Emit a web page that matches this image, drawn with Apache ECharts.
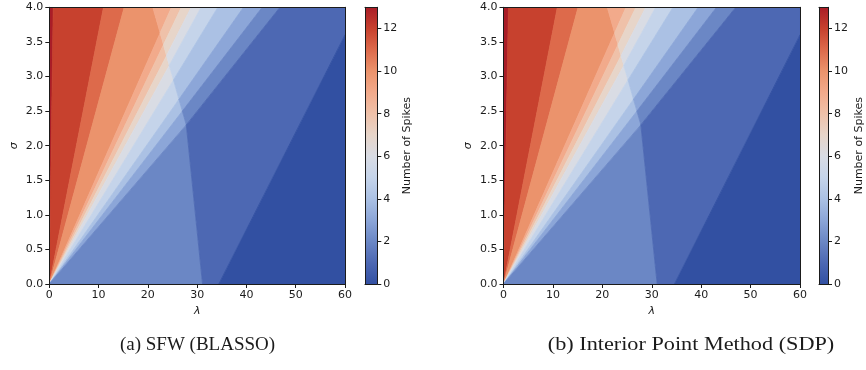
<!DOCTYPE html>
<html><head><meta charset="utf-8">
<script src="https://cdn.jsdelivr.net/npm/echarts@6/dist/echarts.min.js"></script>
<style>html,body{margin:0;padding:0;background:#fff}#c{width:866px;height:370px}</style>
</head><body><div id="c"></div>
<script>
// ---- data ----
const lambdaTicks = [0, 10, 20, 30, 40, 50, 60];
const sigmaTicks = [0, 0.5, 1, 1.5, 2, 2.5, 3, 3.5, 4];
const spikeTicks = [0, 2, 4, 6, 8, 10, 12];
const spikeMax = 13;

// number of spikes in each region of the (λ, σ) plane, and the region outline as [λ, σ] vertices
const sfwSpikes = [13, 12, 11, 10, 9, 9, 8, 8, 7, 7, 6, 6, 5, 5, 4, 4, 3, 3, 2, 2, 1, 0];
const sfwVertices = [
  [[0,0],[0,4],[0.8,4]],
  [[0,0],[0.8,4],[11.0,4]],
  [[0,0],[11.0,4],[15.2,4]],
  [[0,0],[15.2,4],[21.0,4],[22.49,3.63]],
  [[21.0,4],[24.8,4],[22.49,3.63]],
  [[0,0],[22.49,3.63],[23.17,3.46]],
  [[22.49,3.63],[24.8,4],[26.8,4],[23.17,3.46]],
  [[0,0],[23.17,3.46],[23.79,3.30]],
  [[23.17,3.46],[26.8,4],[28.8,4],[23.79,3.30]],
  [[0,0],[23.79,3.30],[24.35,3.16]],
  [[23.79,3.30],[28.8,4],[30.8,4],[24.35,3.16]],
  [[0,0],[24.35,3.16],[25.21,2.95]],
  [[24.35,3.16],[30.8,4],[34.2,4],[25.21,2.95]],
  [[0,0],[25.21,2.95],[26.31,2.67]],
  [[25.21,2.95],[34.2,4],[39.4,4],[26.31,2.67]],
  [[0,0],[26.31,2.67],[27.0,2.5]],
  [[26.31,2.67],[39.4,4],[43.2,4],[27.0,2.5]],
  [[0,0],[27.0,2.5],[27.8,2.3]],
  [[27.0,2.5],[43.2,4],[46.8,4],[27.8,2.3]],
  [[0,0],[27.8,2.3],[31.1,0]],
  [[27.8,2.3],[46.8,4],[60,4],[60,3.6],[34.4,0],[31.1,0]],
  [[34.4,0],[60,3.6],[60,0]]
];

const sdpSpikes = [13, 12, 11, 10, 9, 9, 8, 8, 7, 7, 6, 6, 5, 5, 4, 4, 3, 3, 2, 2, 1, 0];
const sdpVertices = [
  [[0,0],[0,4],[1.0,4]],
  [[0,0],[1.0,4],[10.9,4]],
  [[0,0],[10.9,4],[15.1,4]],
  [[0,0],[15.1,4],[21.0,4],[22.49,3.63]],
  [[21.0,4],[24.8,4],[22.49,3.63]],
  [[0,0],[22.49,3.63],[23.17,3.46]],
  [[22.49,3.63],[24.8,4],[26.8,4],[23.17,3.46]],
  [[0,0],[23.17,3.46],[23.79,3.30]],
  [[23.17,3.46],[26.8,4],[28.8,4],[23.79,3.30]],
  [[0,0],[23.79,3.30],[24.35,3.16]],
  [[23.79,3.30],[28.8,4],[30.8,4],[24.35,3.16]],
  [[0,0],[24.35,3.16],[25.21,2.95]],
  [[24.35,3.16],[30.8,4],[34.3,4],[25.21,2.95]],
  [[0,0],[25.21,2.95],[26.31,2.67]],
  [[25.21,2.95],[34.3,4],[39.4,4],[26.31,2.67]],
  [[0,0],[26.31,2.67],[27.0,2.5]],
  [[26.31,2.67],[39.4,4],[43.1,4],[27.0,2.5]],
  [[0,0],[27.0,2.5],[27.8,2.3]],
  [[27.0,2.5],[43.1,4],[47.0,4],[27.8,2.3]],
  [[0,0],[27.8,2.3],[31.1,0]],
  [[27.8,2.3],[47.0,4],[60,4],[60,3.6],[34.6,0],[31.1,0]],
  [[34.6,0],[60,3.6],[60,0]]
];

const captions = ['(a) SFW (BLASSO)', '(b) Interior Point Method (SDP)'];

// ---- styles ----
const spikeColors = ['#3250a2','#4d68b3','#6b87c5','#8ca6d8','#abc1e4','#c5d4ea','#d9dce4','#e7d5c9','#efc1a9','#f2aa8b','#eb936c','#dd6a4b','#c7412e','#a91d27'];
const ink = '#1b1b1b';
const tickFont = {fontFamily: 'DejaVu Sans', fontSize: 11, color: ink};

function regionSeries(xi, yi, spikes, verts) {
  return {
    type: 'custom', xAxisIndex: xi, yAxisIndex: yi, clip: true, silent: true,
    data: spikes.map((s, i) => [i, s]),
    renderItem: function (params, api) {
      const idx = api.value(0);
      const pts = verts[idx].map(p => api.coord(p));
      const col = spikeColors[spikes[idx]];
      return {type: 'polygon', shape: {points: pts}, style: {fill: col, stroke: col, lineWidth: 0.8}};
    }
  };
}
function colorbarSeries(xi, yi) {
  return {
    type: 'bar', xAxisIndex: xi, yAxisIndex: yi, barWidth: '100%', silent: true,
    data: [spikeMax],
    itemStyle: {color: {type: 'linear', x: 0, y: 1, x2: 0, y2: 0, global: false,
      colorStops: spikeColors.map((c, i) => ({offset: i / spikeMax, color: c}))}}
  };
}
const lineOnly = (o) => Object.assign({
  z: 10, axisLine: {show: true, onZero: false, lineStyle: {color: ink, width: 1}},
  axisTick: {show: false}, axisLabel: {show: false}, splitLine: {show: false}
}, o);
function lamAxis(g) {
  return {type: 'value', gridIndex: g, min: lambdaTicks[0], max: lambdaTicks[lambdaTicks.length-1], interval: 10, z: 10,
    name: 'λ', nameLocation: 'middle', nameGap: 20, nameTextStyle: {fontFamily: 'DejaVu Sans', fontSize: 11, fontStyle: 'italic', color: ink},
    axisLine: {show: true, onZero: false, lineStyle: {color: ink}},
    axisTick: {show: true, length: 4, lineStyle: {color: ink}},
    axisLabel: Object.assign({margin: 6}, tickFont), splitLine: {show: false}};
}
function sigAxis(g) {
  return {type: 'value', gridIndex: g, min: sigmaTicks[0], max: sigmaTicks[sigmaTicks.length-1], interval: 0.5, z: 10,
    name: 'σ', nameLocation: 'middle', nameGap: 30, nameTextStyle: {fontFamily: 'DejaVu Sans', fontSize: 11, fontStyle: 'italic', color: ink},
    axisLine: {show: true, onZero: false, lineStyle: {color: ink}},
    axisTick: {show: true, length: 4, lineStyle: {color: ink}},
    axisLabel: Object.assign({margin: 6, formatter: v => v.toFixed(1)}, tickFont), splitLine: {show: false}};
}
function cbAxis(g, gap) {
  return {type: 'value', gridIndex: g, position: 'right', min: 0, max: spikeMax, interval: 2, z: 10,
    name: 'Number of Spikes', nameLocation: 'middle', nameGap: gap,
    nameTextStyle: {fontFamily: 'DejaVu Sans', fontSize: 11, color: ink},
    axisLine: {show: true, onZero: false, lineStyle: {color: ink}},
    axisTick: {show: true, length: 4, customValues: spikeTicks, lineStyle: {color: ink}},
    axisLabel: Object.assign({margin: 6, customValues: spikeTicks}, tickFont), splitLine: {show: false}};
}

const chart = echarts.init(document.getElementById('c'), null, {renderer: 'canvas'});
chart.setOption({
  animation: false,
  backgroundColor: '#fff',
  grid: [
    {left: 49.3, top: 7.3, width: 295.7, height: 276.7},
    {left: 365, top: 7.3, width: 12.3, height: 276.7},
    {left: 503.5, top: 7.3, width: 296.5, height: 276.7},
    {left: 819, top: 7.3, width: 12.7, height: 276.7}
  ],
  xAxis: [
    lamAxis(0),
    lineOnly({type: 'value', gridIndex: 0, position: 'top', min: 0, max: 60}),
    lineOnly({type: 'category', gridIndex: 1, data: ['cb']}),
    lineOnly({type: 'category', gridIndex: 1, position: 'top', data: ['cb']}),
    lamAxis(2),
    lineOnly({type: 'value', gridIndex: 2, position: 'top', min: 0, max: 60}),
    lineOnly({type: 'category', gridIndex: 3, data: ['cb']}),
    lineOnly({type: 'category', gridIndex: 3, position: 'top', data: ['cb']})
  ],
  yAxis: [
    sigAxis(0),
    lineOnly({type: 'value', gridIndex: 0, position: 'right', min: 0, max: 4}),
    lineOnly({type: 'value', gridIndex: 1, position: 'left', min: 0, max: spikeMax}),
    cbAxis(1, 24),
    sigAxis(2),
    lineOnly({type: 'value', gridIndex: 2, position: 'right', min: 0, max: 4}),
    lineOnly({type: 'value', gridIndex: 3, position: 'left', min: 0, max: spikeMax}),
    cbAxis(3, 26)
  ],
  series: [
    regionSeries(0, 0, sfwSpikes, sfwVertices),
    colorbarSeries(2, 2),
    regionSeries(4, 4, sdpSpikes, sdpVertices),
    colorbarSeries(6, 6)
  ],
  graphic: [
    {type: 'text', x: 197.5, y: 345, style: {text: captions[0], align: 'center', verticalAlign: 'middle', font: '19px "Liberation Serif"', fill: ink}},
    {type: 'text', x: 691, y: 345, scaleX: 1.17, style: {text: captions[1], align: 'center', verticalAlign: 'middle', font: '19px "Liberation Serif"', fill: ink}}
  ]
});
</script></body></html>
